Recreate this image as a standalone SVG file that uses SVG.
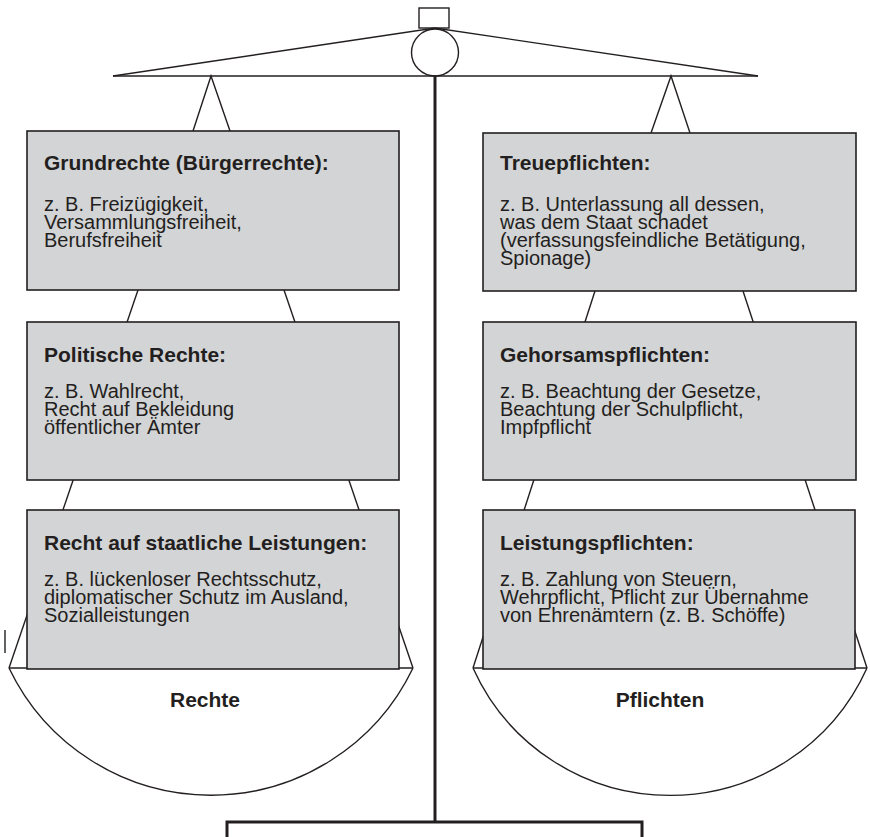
<svg xmlns="http://www.w3.org/2000/svg" width="870" height="837" viewBox="0 0 870 837">
<style>
.ln{fill:none;stroke:#231f20;stroke-width:1.4}
.box{fill:#d3d4d6;stroke:#231f20;stroke-width:1.6}
.t{font-family:"Liberation Sans",Arial,sans-serif;font-size:20px;fill:#231f20}
.b{font-weight:bold;font-size:21px}
</style>
<rect width="870" height="837" fill="#fff"/>
<g id="scale-frame">
<rect class="ln" x="419" y="8" width="30" height="20"/>
<circle class="ln" cx="435" cy="52.5" r="23.5"/>
<line class="ln" x1="113" y1="76" x2="758" y2="76"/>
<polyline class="ln" points="113,76 435,28 758,76"/>
<line x1="435" y1="76" x2="435" y2="822" stroke="#231f20" stroke-width="3"/>
<rect x="227" y="822" width="415" height="24" fill="none" stroke="#231f20" stroke-width="3"/>
<line class="ln" x1="5" y1="630" x2="5" y2="653"/>
</g>
<g id="connectors">
<polyline class="ln" points="193,131 211,76 230,131"/>
<polyline class="ln" points="651,133 671,76 690,133"/>
<line class="ln" x1="138" y1="290" x2="9" y2="668"/>
<line class="ln" x1="284" y1="290" x2="413" y2="668"/>
<line class="ln" x1="595" y1="291" x2="473" y2="668"/>
<line class="ln" x1="743" y1="291" x2="867" y2="668"/>
<line class="ln" x1="9" y1="668" x2="413" y2="668"/>
<line class="ln" x1="473" y1="668" x2="867" y2="668"/>
<path class="ln" d="M9 668 A224 224 0 0 0 413 668"/>
<path class="ln" d="M473 668 A216 216 0 0 0 867 668"/>
</g>
<g id="left-1">
<rect class="box" x="27" y="131" width="372" height="159"/>
<text class="t b" x="44" y="170">Grundrechte (Bürgerrechte):</text>
<text class="t" x="44" y="211">z. B. Freizügigkeit,</text>
<text class="t" x="44" y="229">Versammlungsfreiheit,</text>
<text class="t" x="44" y="247">Berufsfreiheit</text>
</g>
<g id="left-2">
<rect class="box" x="27" y="322" width="372" height="158"/>
<text class="t b" x="44" y="362">Politische Rechte:</text>
<text class="t" x="44" y="398">z. B. Wahlrecht,</text>
<text class="t" x="44" y="416">Recht auf Bekleidung</text>
<text class="t" x="44" y="434">öffentlicher Ämter</text>
</g>
<g id="left-3">
<rect class="box" x="27" y="510" width="372" height="159"/>
<text class="t b" x="44" y="550">Recht auf staatliche Leistungen:</text>
<text class="t" x="44" y="586">z. B. lückenloser Rechtsschutz,</text>
<text class="t" x="44" y="604">diplomatischer Schutz im Ausland,</text>
<text class="t" x="44" y="622">Sozialleistungen</text>
</g>
<g id="right-1">
<rect class="box" x="483" y="133" width="373" height="158"/>
<text class="t b" x="500" y="170">Treuepflichten:</text>
<text class="t" x="500" y="211">z. B. Unterlassung all dessen,</text>
<text class="t" x="500" y="229">was dem Staat schadet</text>
<text class="t" x="500" y="247">(verfassungsfeindliche Betätigung,</text>
<text class="t" x="500" y="265">Spionage)</text>
</g>
<g id="right-2">
<rect class="box" x="483" y="322" width="373" height="158"/>
<text class="t b" x="500" y="362">Gehorsamspflichten:</text>
<text class="t" x="500" y="398">z. B. Beachtung der Gesetze,</text>
<text class="t" x="500" y="416">Beachtung der Schulpflicht,</text>
<text class="t" x="500" y="434">Impfpflicht</text>
</g>
<g id="right-3">
<rect class="box" x="483" y="510" width="372" height="159"/>
<text class="t b" x="500" y="550">Leistungspflichten:</text>
<text class="t" x="500" y="586">z. B. Zahlung von Steuern,</text>
<text class="t" x="500" y="604">Wehrpflicht, Pflicht zur Übernahme</text>
<text class="t" x="500" y="622">von Ehrenämtern (z. B. Schöffe)</text>
</g>
<g id="labels">
<text class="t b" x="205" y="707" text-anchor="middle">Rechte</text>
<text class="t b" x="660" y="707" text-anchor="middle">Pflichten</text>
</g>
</svg>
